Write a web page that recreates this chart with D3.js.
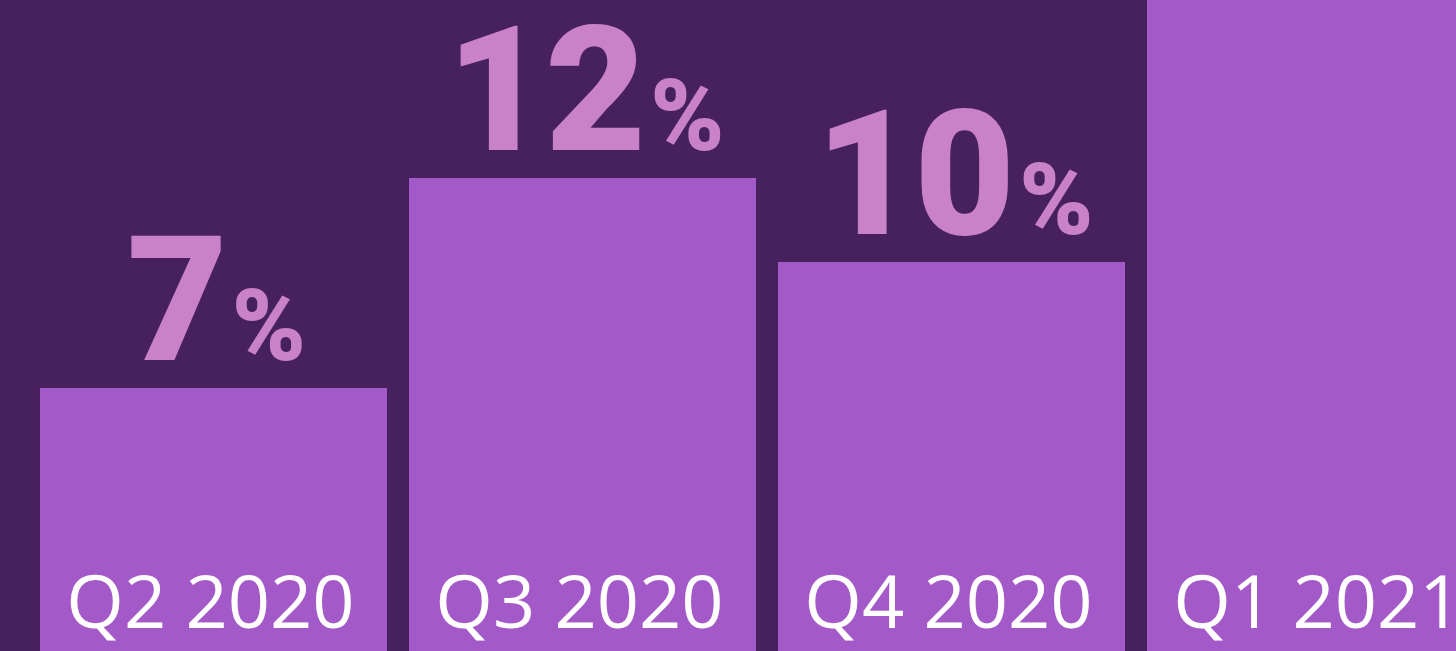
<!DOCTYPE html>
<html>
<head>
<meta charset="utf-8">
<script src="https://cdn.jsdelivr.net/npm/d3@7"></script>
<style>
  html, body { margin: 0; padding: 0; background: #47205e; overflow: hidden; }
</style>
</head>
<body>
<script>
// quarters and share values (%), last bar runs off the top of the frame
const quarters = ["Q2 2020", "Q3 2020", "Q4 2020", "Q1 2021"]
const values = [7, 12, 10, 17]

const width = 1456
const height = 651

const svg = d3.select("body").append("svg")
    .attr("width", width)
    .attr("height", height)
    .attr("xmlns", "http://www.w3.org/2000/svg")

svg.append("rect")
    .attr("width", width)
    .attr("height", height)
    .style("fill", "#47205e")

const x = d3.scaleBand()
    .domain(quarters)
    .range([29, 1505])
    .paddingInner(0.0596)
    .paddingOuter(0.0298)

// baseline sits below the frame edge
const y = d3.scaleLinear()
    .domain([0, 20])
    .range([682, -158])

const data = quarters.map((q, i) => ({ q, v: values[i] }))

svg.selectAll("rect.bar")
  .data(data)
  .join("rect")
    .attr("class", "bar")
    .attr("x", d => x(d.q))
    .attr("y", d => y(d.v))
    .attr("width", x.bandwidth())
    .attr("height", d => y(0) - y(d.v))
    .style("fill", "#a459c8")

const labels = svg.selectAll("text.value")
  .data(data)
  .join("text")
    .attr("class", "value")
    .attr("x", d => x(d.q) + x.bandwidth() / 2 + 3)
    .attr("y", d => y(d.v) - 28)
    .attr("text-anchor", "middle")
    .attr("font-family", "Roboto, 'Open Sans', sans-serif")
    .attr("font-weight", 900)
    .style("fill", "#c982c8")

labels.append("tspan")
    .attr("font-size", 174)
    .attr("letter-spacing", -2)
    .text(d => d.v)

labels.append("tspan")
    .attr("font-size", 100)
    .attr("dx", 6)
    .text("%")

svg.selectAll("text.cat")
  .data(data)
  .join("text")
    .attr("class", "cat")
    .attr("x", d => x(d.q) + x.bandwidth() / 2 - 3)
    .attr("y", 628)
    .attr("text-anchor", "middle")
    .attr("font-family", "'Open Sans', sans-serif")
    .attr("font-size", 74)
    .style("fill", "#ffffff")
    .text(d => d.q)
</script>
</body>
</html>
